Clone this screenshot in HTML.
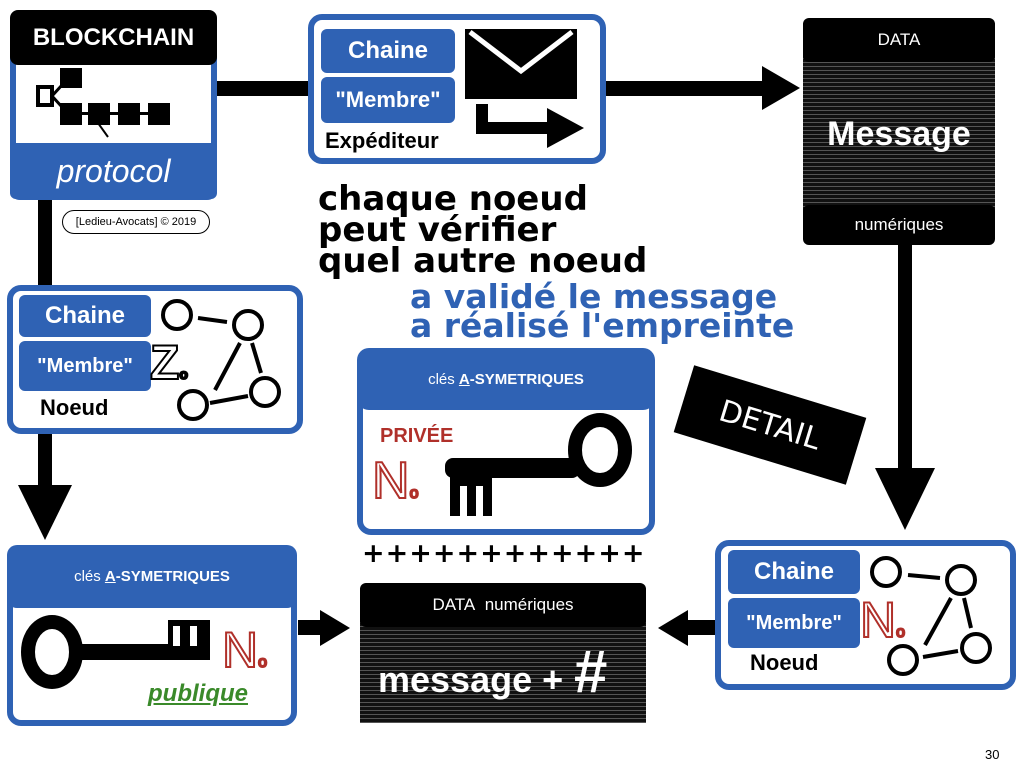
<!DOCTYPE html>
<html><head><meta charset="utf-8"><style>
*{margin:0;padding:0;box-sizing:border-box}
body{width:1024px;height:768px;background:#fff;position:relative;overflow:hidden;font-family:"Liberation Sans","DejaVu Sans",sans-serif}
.a{position:absolute}
.blue{background:#2f62b4;color:#fff}
.blk{background:#000;color:#fff}
.lbl{position:absolute;border-radius:6px;background:#2f62b4;color:#fff;font-weight:bold;font-size:24px;display:flex;align-items:center;justify-content:center}
.box{position:absolute;border:6px solid #2f62b4;border-radius:14px;background:#fff}
.bin{background:#111;background-image:repeating-linear-gradient(0deg,#555 0 1px,#111 1px 4px)}
.c{display:flex;align-items:center;justify-content:center}
</style></head><body>
<svg class="a" style="left:0;top:0" width="1024" height="768">
<rect x="215" y="81" width="95" height="15" fill="#000"/>
<rect x="605" y="81" width="160" height="15" fill="#000"/>
<polygon points="762,66 800,88 762,110" fill="#000"/>
<rect x="38" y="198" width="14" height="90" fill="#000"/>
<rect x="38" y="432" width="14" height="55" fill="#000"/>
<polygon points="18,485 72,485 45,540" fill="#000"/>
<rect x="898" y="245" width="14" height="225" fill="#000"/>
<polygon points="875,468 935,468 905,530" fill="#000"/>
<rect x="298" y="620" width="25" height="15" fill="#000"/>
<polygon points="320,610 350,628 320,646" fill="#000"/>
<rect x="685" y="620" width="32" height="15" fill="#000"/>
<polygon points="688,610 658,628 688,646" fill="#000"/>
</svg>

<div class="box" style="left:10px;top:40px;width:207px;height:160px;border-radius:10px"></div>
<div class="a blk c" style="left:10px;top:10px;width:207px;height:55px;border-radius:8px;font-weight:bold;font-size:24px">BLOCKCHAIN</div>
<svg class="a" style="left:30px;top:65px" width="170" height="75">
<rect x="8" y="22" width="14" height="18" fill="#fff" stroke="#000" stroke-width="4"/>
<path d="M22,31 L32,20 M22,31 L32,42" stroke="#000" stroke-width="3"/>
<rect x="30" y="3" width="22" height="20" fill="#000"/>
<rect x="30" y="38" width="22" height="22" fill="#000"/>
<rect x="58" y="38" width="22" height="22" fill="#000"/>
<rect x="88" y="38" width="22" height="22" fill="#000"/>
<rect x="118" y="38" width="22" height="22" fill="#000"/>
<rect x="50" y="47" width="70" height="3" fill="#000"/>
<path d="M68,58 L78,72" stroke="#000" stroke-width="2"/>
</svg>
<div class="a blue c" style="left:10px;top:143px;width:207px;height:56px;border-radius:6px;font-style:italic;font-size:32px">protocol</div>
<div class="a c" style="left:62px;top:210px;width:148px;height:24px;border:1.5px solid #000;border-radius:12px;font-size:11px">[Ledieu-Avocats] © 2019</div>

<div class="box" style="left:308px;top:14px;width:298px;height:150px"></div>
<div class="lbl" style="left:321px;top:29px;width:134px;height:44px">Chaine</div>
<div class="lbl" style="left:321px;top:77px;width:134px;height:46px;font-size:22px">"Membre"</div>
<div class="a" style="left:325px;top:128px;font-weight:bold;font-size:22px">Expéditeur</div>
<svg class="a" style="left:462px;top:26px" width="125" height="130">
<rect x="3" y="3" width="112" height="70" fill="#000"/>
<path d="M8,6 L59,45 L110,6" stroke="#fff" stroke-width="5" fill="none"/>
<path d="M20,78 L20,102 L90,102" stroke="#000" stroke-width="12" fill="none"/>
<polygon points="85,82 122,102 85,122" fill="#000"/>
</svg>

<div class="a bin" style="left:803px;top:55px;width:192px;height:160px"></div>
<div class="a blk c" style="left:803px;top:18px;width:192px;height:44px;border-radius:6px;font-size:17px">DATA</div>
<div class="a c" style="left:803px;top:110px;width:192px;height:48px;color:#fff;font-weight:bold;font-size:34px">Message</div>
<div class="a blk c" style="left:803px;top:205px;width:192px;height:40px;border-radius:6px;font-size:17px">numériques</div>

<div class="a" style="left:318px;top:184px;font-weight:900;font-size:34px;line-height:31px;font-family:'DejaVu Sans',sans-serif">chaque noeud<br>peut vérifier<br>quel autre noeud</div>
<div class="a" style="left:410px;top:282px;font-weight:bold;font-size:33px;line-height:29px;color:#2f62b4;font-family:'DejaVu Sans',sans-serif">a validé le message<br>a réalisé l'empreinte</div>

<div class="box" style="left:7px;top:285px;width:296px;height:149px"></div>
<div class="lbl" style="left:19px;top:295px;width:132px;height:42px">Chaine</div>
<div class="lbl" style="left:19px;top:341px;width:132px;height:50px;font-size:20px">"Membre"</div>
<div class="a" style="left:40px;top:395px;font-weight:bold;font-size:22px">Noeud</div>
<div class="a" style="left:150px;top:340px;font-size:48px;font-weight:bold;color:#fff;-webkit-text-stroke:2px #000;line-height:48px">Z<span style="font-size:14px">o</span></div>
<svg class="a" style="left:160px;top:295px" width="130" height="130">
<g fill="none" stroke="#000" stroke-width="4">
<circle cx="17" cy="20" r="14"/><circle cx="88" cy="30" r="14"/><circle cx="105" cy="97" r="14"/><circle cx="33" cy="110" r="14"/>
<path d="M38,23 L67,27 M80,48 L55,95 M92,48 L101,78 M50,108 L88,101"/></g></svg>

<div class="box" style="left:7px;top:560px;width:290px;height:166px"></div>
<div class="a blue c" style="left:7px;top:545px;width:290px;height:63px;border-radius:10px;font-size:15px">clés&nbsp;<b><u>A</u>-SYMETRIQUES</b></div>
<svg class="a" style="left:20px;top:612px" width="200" height="80">
<ellipse cx="32" cy="40" rx="24" ry="30" fill="none" stroke="#000" stroke-width="14"/>
<rect x="55" y="32" width="135" height="16" fill="#000"/>
<rect x="148" y="8" width="42" height="26" fill="#000"/>
<rect x="153" y="14" width="7" height="20" fill="#fff"/><rect x="170" y="14" width="7" height="20" fill="#fff"/>
</svg>
<div class="a" style="left:222px;top:625px;font-size:50px;color:#fff;-webkit-text-stroke:2px #b0302a;line-height:50px">N<span style="font-size:16px">o</span></div>
<div class="a" style="left:148px;top:680px;font-weight:bold;font-style:italic;font-size:24px;color:#3a8a2a;text-decoration:underline">publique</div>

<div class="box" style="left:357px;top:370px;width:298px;height:165px"></div>
<div class="a blue c" style="left:357px;top:348px;width:298px;height:62px;border-radius:12px;font-size:15px">clés&nbsp;<b><u>A</u>-SYMETRIQUES</b></div>
<div class="a" style="left:380px;top:425px;font-weight:bold;font-size:20px;color:#b0302a">PRIVÉE</div>
<div class="a" style="left:372px;top:455px;font-size:52px;color:#fff;-webkit-text-stroke:2px #b0302a;line-height:52px">N<span style="font-size:16px">o</span></div>
<svg class="a" style="left:440px;top:408px" width="200" height="115">
<rect x="5" y="50" width="135" height="20" rx="8" fill="#000"/>
<ellipse cx="160" cy="42" rx="25" ry="30" fill="none" stroke="#000" stroke-width="14"/>
<rect x="10" y="68" width="42" height="40" fill="#000"/>
<rect x="20" y="78" width="7" height="30" fill="#fff"/><rect x="36" y="78" width="7" height="30" fill="#fff"/>
</svg>
<div class="a" style="left:362px;top:538px;font-weight:900;font-size:27px;letter-spacing:1px;font-family:'DejaVu Sans',sans-serif">++++++++++++</div>

<div class="a bin" style="left:360px;top:610px;width:286px;height:113px"></div>
<div class="a blk c" style="left:360px;top:583px;width:286px;height:44px;border-radius:6px;font-size:17px">DATA&nbsp; numériques</div>
<div class="a" style="left:378px;top:652px;color:#fff;font-weight:bold;font-size:36px;line-height:40px">message + <span style="font-size:60px;font-style:italic">#</span></div>

<div class="a blk c" style="left:680px;top:390px;width:180px;height:70px;transform:rotate(17deg);font-size:30px;font-family:'DejaVu Sans',sans-serif">DETAIL</div>

<div class="box" style="left:715px;top:540px;width:301px;height:150px"></div>
<div class="lbl" style="left:728px;top:550px;width:132px;height:44px">Chaine</div>
<div class="lbl" style="left:728px;top:598px;width:132px;height:50px;font-size:20px">"Membre"</div>
<div class="a" style="left:750px;top:650px;font-weight:bold;font-size:22px">Noeud</div>
<div class="a" style="left:860px;top:595px;font-size:50px;color:#fff;-webkit-text-stroke:2px #b0302a;line-height:50px">N<span style="font-size:16px">o</span></div>
<svg class="a" style="left:868px;top:550px" width="140" height="130">
<g fill="none" stroke="#000" stroke-width="4">
<circle cx="18" cy="22" r="14"/><circle cx="93" cy="30" r="14"/><circle cx="108" cy="98" r="14"/><circle cx="35" cy="110" r="14"/>
<path d="M40,25 L72,28 M83,48 L57,95 M96,48 L103,78 M55,107 L90,101"/></g></svg>

<div class="a" style="left:985px;top:747px;font-size:13px">30</div>
</body></html>
